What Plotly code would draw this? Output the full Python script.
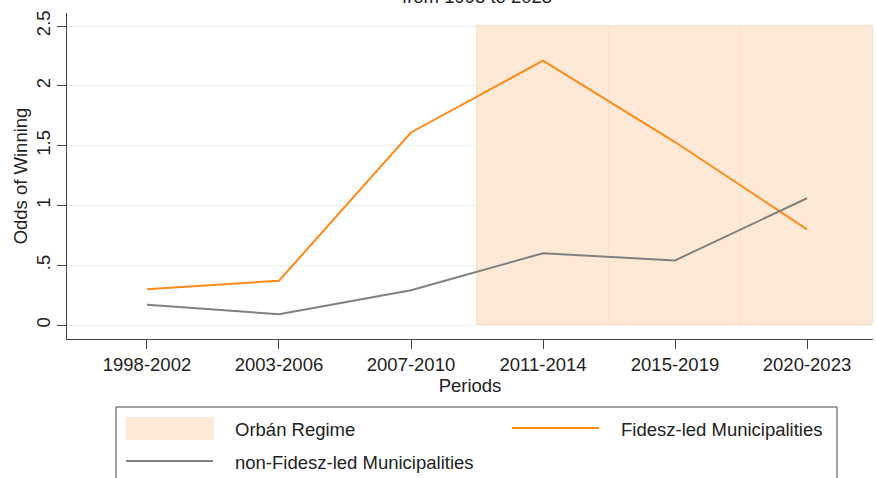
import plotly.graph_objects as go

periods = ["1998-2002", "2003-2006", "2007-2010", "2011-2014", "2015-2019", "2020-2023"]
fidesz = [0.30, 0.37, 1.61, 2.21, 1.53, 0.80]
non_fidesz = [0.17, 0.09, 0.29, 0.60, 0.54, 1.06]
orban_periods = ["2011-2014", "2015-2019", "2020-2023"]
orban_height = 2.5
y_ticks = [0, 0.5, 1, 1.5, 2, 2.5]
y_ticktext = ["0", ".5", "1", "1.5", "2", "2.5"]
legend_labels = ["Orbán Regime", "Fidesz-led Municipalities", "non-Fidesz-led Municipalities"]

PEACH = "#fee9d6"
ORANGE = "#ff8a17"
GRAY = "#808080"
FONT = "Liberation Sans"
FS = 18.5

W, H = 876, 478
L, R, T, B = 67, 3, 13, 139
PW, PH = W - L - R, H - T - B


def px(x):
    return (x - L) / PW


def py(y):
    return (H - B - y) / PH


fig = go.Figure()

# Orbán regime shading: one bar per period of the regime
fig.add_trace(go.Bar(
    x=orban_periods, y=[orban_height] * len(orban_periods), width=1,
    marker=dict(color=PEACH, line=dict(color="#fbe0c6", width=1)),
    name=legend_labels[0], showlegend=False, hoverinfo="skip"))

fig.add_trace(go.Scatter(
    x=periods, y=fidesz, mode="lines", line=dict(color=ORANGE, width=2),
    name=legend_labels[1], showlegend=False))
fig.add_trace(go.Scatter(
    x=periods, y=non_fidesz, mode="lines", line=dict(color=GRAY, width=2),
    name=legend_labels[2], showlegend=False))

# legend box drawn in paper coordinates
shapes = [
    dict(type="rect", xref="paper", yref="paper", x0=px(116), x1=px(837),
         y0=py(407), y1=py(495), line=dict(color="#444444", width=1),
         fillcolor="rgba(0,0,0,0)"),
    dict(type="rect", xref="paper", yref="paper", x0=px(126), x1=px(214),
         y0=py(417), y1=py(440), line=dict(width=0), fillcolor=PEACH),
    dict(type="line", xref="paper", yref="paper", x0=px(512), x1=px(599),
         y0=py(428), y1=py(428), line=dict(color=ORANGE, width=2)),
    dict(type="line", xref="paper", yref="paper", x0=px(126), x1=px(213),
         y0=py(461), y1=py(461), line=dict(color=GRAY, width=2)),
]
legend_pos = [(233, 429), (619, 429), (233, 462)]
annotations = [
    dict(text=lab, xref="paper", yref="paper", x=px(x), y=py(y),
         xanchor="left", yanchor="middle", showarrow=False,
         font=dict(size=FS, family=FONT, color="#222222"))
    for lab, (x, y) in zip(legend_labels, legend_pos)
]
annotations.append(dict(
    text="from 1998 to 2023", xref="paper", yref="paper", x=px(477), y=py(6),
    xanchor="center", yanchor="bottom", yshift=-3, showarrow=False,
    font=dict(size=FS, family=FONT, color="#222222")))

fig.update_layout(
    width=W, height=H,
    margin=dict(l=L, r=R, t=T, b=B, autoexpand=False),
    paper_bgcolor="white", plot_bgcolor="white",
    font=dict(family=FONT, size=FS, color="#222222"),
    bargap=0, showlegend=False,
    shapes=shapes, annotations=annotations,
    xaxis=dict(
        type="category", categoryorder="array", categoryarray=periods,
        range=[-0.606, 5.5], showgrid=False, showline=True, linecolor="#444444",
        linewidth=1, ticks="outside", ticklen=9, tickcolor="#444444",
        tickfont=dict(size=FS), zeroline=False,
        title=dict(text="Periods", font=dict(size=FS), standoff=0)),
    yaxis=dict(
        range=[-0.117, 2.609], tickvals=y_ticks, ticktext=y_ticktext,
        tickangle=-90, showgrid=True, gridcolor="#e9f1f3", gridwidth=1,
        showline=True, linecolor="#444444", linewidth=1, ticks="outside",
        ticklen=9, tickcolor="#444444", zeroline=False, tickfont=dict(size=FS),
        title=dict(text="Odds of Winning", font=dict(size=FS), standoff=0)),
)

fig.write_html(
    "out.html",
    config={"displayModeBar": False},
    post_script="document.body.style.margin='0';document.body.style.padding='0';"
                "document.body.style.overflow='hidden';",
)
